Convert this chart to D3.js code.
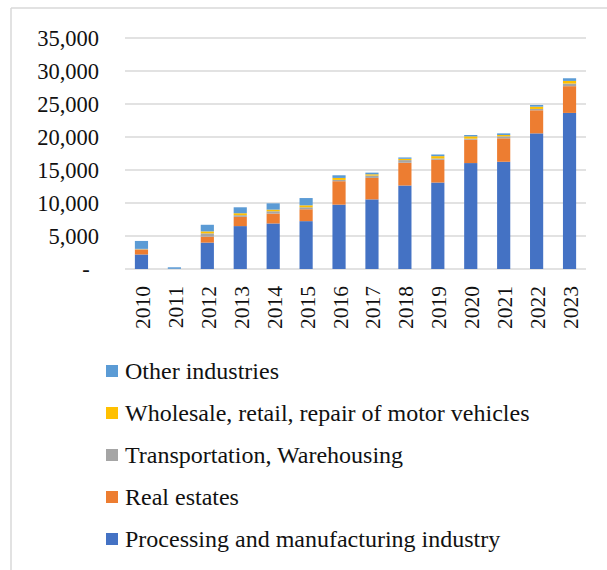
<!DOCTYPE html>
<html>
<head>
<meta charset="utf-8">
<script src="https://cdn.jsdelivr.net/npm/d3@7"></script>
<style>
  body { margin: 0; background: #fff; }
  #chart { width: 607px; height: 570px; }
  text { font-family: "Liberation Serif", "Times New Roman", serif; fill: #111; }
</style>
</head>
<body>
<div id="chart"></div>
<script>
// years on the x axis
const years = ["2010", "2011", "2012", "2013", "2014", "2015", "2016",
               "2017", "2018", "2019", "2020", "2021", "2022", "2023"];

// series values (stack order bottom -> top)
const manufacturing = [2200, 30, 4000, 6500, 6900, 7250, 9750, 10550, 12650, 13100, 16050, 16250, 20550, 23650];
const realEstate    = [750, 0, 900, 1400, 1500, 1800, 3550, 3250, 3450, 3450, 3550, 3550, 3500, 4050];
const transport     = [60, 0, 500, 250, 350, 300, 200, 350, 400, 200, 150, 300, 200, 400];
const wholesale     = [40, 0, 300, 300, 250, 300, 300, 200, 200, 350, 350, 200, 350, 400];
const other         = [1200, 230, 1000, 900, 950, 1100, 400, 250, 200, 250, 200, 250, 250, 400];

const seriesNames = ["Processing and manufacturing industry", "Real estates",
                     "Transportation, Warehousing", "Wholesale, retail, repair of motor vehicles",
                     "Other industries"];
const seriesValues = [manufacturing, realEstate, transport, wholesale, other];
const colors = ["#4472C4", "#ED7D31", "#A5A5A5", "#FFC000", "#5B9BD5"];

const yTicks = [0, 5000, 10000, 15000, 20000, 25000, 30000, 35000];
const yTickLabels = ["-", "5,000", "10,000", "15,000", "20,000", "25,000", "30,000", "35,000"];

(function() {
    const width = 607, height = 570;

    const svg = d3.select("#chart").append("svg")
        .attr("width", width)
        .attr("height", height);

    // outer frame (top and left edges only visible)
    svg.append("line").attr("x1", 11).attr("x2", width).attr("y1", 8).attr("y2", 8)
        .attr("stroke", "#d9d9d9").attr("stroke-width", 1.5);
    svg.append("line").attr("x1", 11).attr("x2", 11).attr("y1", 8).attr("y2", height)
        .attr("stroke", "#d9d9d9").attr("stroke-width", 1.5);

    const x = d3.scaleBand()
        .domain(years)
        .range([125, 586])
        .paddingInner(0.6)
        .paddingOuter(0.3);

    const y = d3.scaleLinear()
        .domain([0, 35000])
        .range([269, 38]);

    // build table for the stack
    const table = years.map((yr, i) => {
        const row = { year: yr };
        seriesNames.forEach((n, k) => row[n] = seriesValues[k][i]);
        return row;
    });
    const stacked = d3.stack().keys(seriesNames)(table);

    // gridlines
    svg.append("g")
        .selectAll("line")
        .data(yTicks)
        .join("line")
        .attr("x1", 125).attr("x2", 586)
        .attr("y1", d => y(d)).attr("y2", d => y(d))
        .attr("stroke", "#d9d9d9")
        .attr("stroke-width", 1.5);

    // y labels
    svg.append("g")
        .selectAll("text")
        .data(yTicks)
        .join("text")
        .attr("x", (d, i) => d === 0 ? 86 : 99)
        .attr("y", d => y(d))
        .attr("dy", "0.35em")
        .attr("text-anchor", d => d === 0 ? "middle" : "end")
        .style("font-size", "22.5px")
        .text((d, i) => yTickLabels[i]);

    // bars
    svg.append("g")
        .selectAll("g")
        .data(stacked)
        .join("g")
        .attr("fill", (d, i) => colors[i])
        .selectAll("rect")
        .data(d => d)
        .join("rect")
        .attr("x", d => x(d.data.year))
        .attr("width", x.bandwidth())
        .attr("y", d => y(d[1]))
        .attr("height", d => Math.max(0, y(d[0]) - y(d[1])));

    // x labels, rotated
    svg.append("g")
        .selectAll("text")
        .data(years)
        .join("text")
        .attr("transform", d => `translate(${x(d) + x.bandwidth() / 2 + 1},286) rotate(-90)`)
        .attr("text-anchor", "end")
        .attr("dy", "0.35em")
        .style("font-size", "21.5px")
        .text(d => d);

    // legend, top entry is the top of the stack
    const legendOrder = d3.range(seriesNames.length).reverse();
    const legend = svg.append("g")
        .selectAll("g")
        .data(legendOrder)
        .join("g")
        .attr("transform", (d, i) => `translate(106,${371 + i * 42})`);

    legend.append("rect")
        .attr("x", 0).attr("y", -6)
        .attr("width", 12).attr("height", 12)
        .attr("fill", d => colors[d]);

    legend.append("text")
        .attr("x", 19)
        .attr("y", 0)
        .attr("dy", "0.35em")
        .style("font-size", "24px")
        .text(d => seriesNames[d]);
})();
</script>
</body>
</html>
